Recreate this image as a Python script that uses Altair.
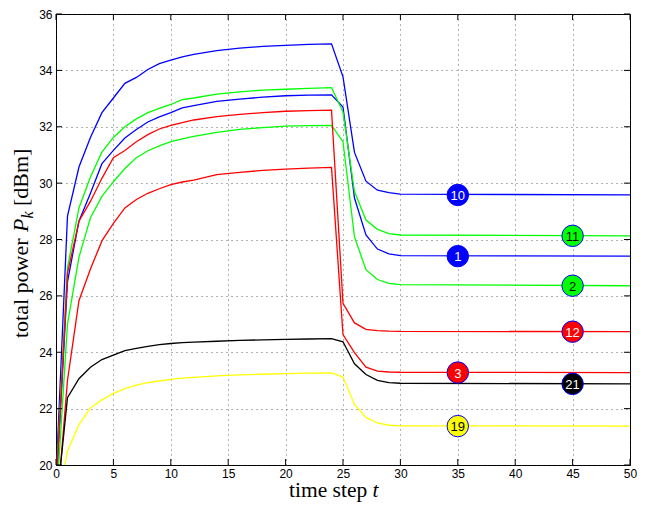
import altair as alt
import pandas as pd

# time steps at which values were read
T = [0, 1, 2, 3, 4, 5, 6, 7, 8, 9, 10, 11, 12, 14, 16, 18, 20, 22, 24, 25, 26, 27, 28, 29, 30, 50]

u10 = [19.5, 28.83, 30.57, 31.62, 32.5, 33.02, 33.54, 33.75, 34.03, 34.24, 34.36, 34.48, 34.57, 34.7, 34.79, 34.85, 34.89, 34.92, 34.94, 33.77, 31.09, 30.07, 29.75, 29.66, 29.61, 29.58]
u1 = [19.0, 26.5, 28.65, 29.64, 30.69, 31.16, 31.6, 31.9, 32.17, 32.35, 32.5, 32.67, 32.75, 32.9, 32.98, 33.05, 33.1, 33.12, 33.13, 32.7, 29.47, 28.16, 27.66, 27.49, 27.43, 27.41]
u11 = [19.3, 27.0, 29.12, 30.22, 31.1, 31.62, 32.0, 32.28, 32.5, 32.65, 32.79, 32.96, 33.02, 33.16, 33.24, 33.3, 33.33, 33.36, 33.39, 32.52, 29.7, 28.69, 28.36, 28.21, 28.16, 28.13]
u2 = [18.5, 25.0, 27.37, 28.77, 29.53, 30.05, 30.52, 30.9, 31.15, 31.32, 31.47, 31.57, 31.66, 31.8, 31.91, 31.97, 32.02, 32.04, 32.05, 31.47, 28.09, 26.93, 26.58, 26.44, 26.4, 26.36]
u12 = [19.2, 26.8, 28.65, 29.35, 30.17, 30.9, 31.16, 31.47, 31.72, 31.92, 32.05, 32.15, 32.24, 32.36, 32.44, 32.5, 32.55, 32.57, 32.59, 25.74, 25.04, 24.81, 24.77, 24.75, 24.74, 24.73]
u3 = [18.0, 23.0, 25.83, 26.95, 27.95, 28.57, 29.12, 29.42, 29.64, 29.8, 29.95, 30.04, 30.11, 30.3, 30.38, 30.45, 30.5, 30.53, 30.56, 24.63, 23.99, 23.47, 23.33, 23.3, 23.29, 23.28]
u21 = [18.4, 22.39, 23.06, 23.47, 23.74, 23.9, 24.06, 24.14, 24.21, 24.27, 24.31, 24.34, 24.36, 24.39, 24.42, 24.44, 24.46, 24.47, 24.48, 24.37, 23.59, 23.21, 23.0, 22.92, 22.9, 22.88]
u19 = [18.3, 20.5, 21.43, 22.02, 22.31, 22.54, 22.71, 22.83, 22.92, 22.98, 23.04, 23.08, 23.11, 23.16, 23.2, 23.22, 23.24, 23.26, 23.27, 23.12, 22.15, 21.69, 21.49, 21.41, 21.39, 21.38]

series_names = ["10", "1", "11", "2", "12", "3", "21", "19"]
series_vals = [u10, u1, u11, u2, u12, u3, u21, u19]
series_colors = ["#0000ff", "#0000ff", "#00ff00", "#00ff00", "#ff0000", "#ff0000", "#000000", "#ffff00"]

# markers
mark_labels = ["10", "1", "3", "19", "11", "2", "12", "21"]
mark_t = [35, 35, 35, 35, 45, 45, 45, 45]
mark_v = [29.58, 27.41, 23.28, 21.38, 28.13, 26.36, 24.73, 22.88]
mark_fill = ["#0000ff", "#0000ff", "#ff0000", "#ffff00", "#00ff00", "#00ff00", "#ff0000", "#000000"]
mark_text = ["white", "white", "white", "black", "black", "black", "white", "white"]

x_ticks = [0, 5, 10, 15, 20, 25, 30, 35, 40, 45, 50]
y_ticks = [20, 22, 24, 26, 28, 30, 32, 34, 36]

rows = []
for name, vals, col in zip(series_names, series_vals, series_colors):
    for t, v in zip(T, vals):
        rows.append({"t": t, "v": v, "s": name, "c": col})
df = pd.DataFrame(rows)

mk = pd.DataFrame({"t": mark_t, "v": mark_v, "lab": mark_labels, "fc": mark_fill, "tc": mark_text})
xt = pd.DataFrame({"t": x_ticks})
yt = pd.DataFrame({"v": y_ticks})

W, H = 574, 451
xscale = alt.Scale(domain=[0, 50], nice=False, zero=False)
yscale = alt.Scale(domain=[20, 36], nice=False, zero=False)
xax = alt.Axis(values=x_ticks, title=None, ticks=False, domain=False,
               labelFlush=False, labelPadding=3, grid=True)
yax = alt.Axis(values=y_ticks, title=None, ticks=False, domain=False,
               labelPadding=4, grid=True)

X = alt.X("t:Q", scale=xscale, axis=xax)
Y = alt.Y("v:Q", scale=yscale, axis=yax)

lines = alt.Chart(df).mark_line(clip=True, strokeWidth=1.3).encode(
    x=X, y=Y,
    color=alt.Color("c:N", scale=None),
    detail="s:N",
    order="t:Q",
)

tick_b = alt.Chart(xt).mark_rule(color="black", strokeWidth=1).encode(
    x=X, y=alt.value(H), y2=alt.value(H - 6))
tick_t = alt.Chart(xt).mark_rule(color="black", strokeWidth=1).encode(
    x=X, y=alt.value(0), y2=alt.value(6))
tick_l = alt.Chart(yt).mark_rule(color="black", strokeWidth=1).encode(
    y=Y, x=alt.value(0), x2=alt.value(6))
tick_r = alt.Chart(yt).mark_rule(color="black", strokeWidth=1).encode(
    y=Y, x=alt.value(W), x2=alt.value(W - 6))

circles = alt.Chart(mk).mark_point(shape="circle", filled=True, size=460, stroke="#0000ff",
                                   strokeWidth=1, opacity=1).encode(
    x=X, y=Y,
    fill=alt.Fill("fc:N", scale=None),
)
labels = alt.Chart(mk).mark_text(font="Liberation Sans", fontSize=13, align="center",
                                 baseline="middle", dy=1).encode(
    x=X, y=Y,
    text="lab:N",
    color=alt.Color("tc:N", scale=None),
)

FS = 21.5
serif = "Liberation Serif"
xt1 = alt.Chart(pd.DataFrame({"s": ["time step"]})).mark_text(
    font=serif, fontSize=FS, align="left", baseline="alphabetic", color="black").encode(
    x=alt.value(233), y=alt.value(483), text="s:N")
xt2 = alt.Chart(pd.DataFrame({"s": ["t"]})).mark_text(
    font=serif, fontSize=FS, fontStyle="italic", align="left", baseline="alphabetic", color="black").encode(
    x=alt.value(316.6), y=alt.value(483), text="s:N")

FSY = 22
yx = -28
yt1 = alt.Chart(pd.DataFrame({"s": ["total power"]})).mark_text(
    font=serif, fontSize=FSY, align="left", baseline="alphabetic", angle=270, color="black").encode(
    x=alt.value(yx), y=alt.value(324), text="s:N")
yt2 = alt.Chart(pd.DataFrame({"s": ["P"]})).mark_text(
    font=serif, fontSize=FSY, fontStyle="italic", align="left", baseline="alphabetic", angle=270, color="black").encode(
    x=alt.value(yx), y=alt.value(218), text="s:N")
yt3 = alt.Chart(pd.DataFrame({"s": ["k"]})).mark_text(
    font=serif, fontSize=16, fontStyle="italic", align="left", baseline="alphabetic", angle=270, color="black").encode(
    x=alt.value(yx + 5), y=alt.value(204.5), text="s:N")
yt4 = alt.Chart(pd.DataFrame({"s": ["[dBm]"]})).mark_text(
    font=serif, fontSize=FSY, align="left", baseline="alphabetic", angle=270, color="black").encode(
    x=alt.value(yx), y=alt.value(192), text="s:N")

chart = alt.layer(
    lines, tick_b, tick_t, tick_l, tick_r, circles, labels, xt1, xt2, yt1, yt2, yt3, yt4
).properties(
    width=W, height=H,
    autosize=alt.AutoSizeParams(type="none"),
    padding={"left": 48, "top": 6, "right": 7, "bottom": 37},
    background="white",
).configure_view(
    stroke="black", strokeWidth=1
).configure_axis(
    labelFont="Liberation Sans", labelFontSize=12, labelColor="black",
    gridColor="#222222", gridDash=[1, 4], gridWidth=1, gridOpacity=0.7,
)

chart.save("out.html", embed_options={"renderer": "svg", "actions": False})
